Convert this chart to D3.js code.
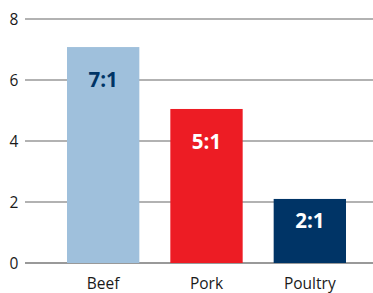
<!DOCTYPE html>
<html><head><meta charset="utf-8">
<script src="https://cdn.jsdelivr.net/npm/d3@7"></script>
<style>body{margin:0;background:#fff}svg{display:block}</style>
</head><body><svg id="c" width="373" height="293"></svg>
<script>
const categories = ["Beef", "Pork", "Poultry"];
const values = [7.08, 5.05, 2.1];
const ratioLabels = ["7:1", "5:1", "2:1"];
const yTicks = [0, 2, 4, 6, 8];
const barColors = ["#9fc0dc", "#ed1c24", "#003466"];
const labelColors = ["#003466", "#ffffff", "#ffffff"];

const svg = d3.select("#c");
const font = "'Open Sans', 'Noto Sans', sans-serif";
const y = d3.scaleLinear().domain([0, 8]).range([263, 19]);
const x = d3.scaleBand().domain(categories).range([36, 377]).paddingInner(0.3).paddingOuter(0.3);

svg.append("g").selectAll("line").data(yTicks).join("line")
  .attr("x1", 25).attr("x2", 373)
  .attr("y1", d => y(d)).attr("y2", d => y(d))
  .attr("stroke", "#999").attr("stroke-width", d => d === 0 ? 2 : 1.5);

svg.append("g").selectAll("text").data(yTicks).join("text")
  .attr("x", 14).attr("y", d => y(d)).attr("dy", "0.36em")
  .attr("text-anchor", "middle").attr("font-family", font).attr("font-size", 15.5)
  .attr("fill", "#1a1a1a").text(d => d);

svg.append("g").selectAll("rect").data(categories).join("rect")
  .attr("x", d => x(d)).attr("width", x.bandwidth())
  .attr("y", (d, i) => y(values[i])).attr("height", (d, i) => y(0) - y(values[i]))
  .attr("fill", (d, i) => barColors[i]);

svg.append("g").selectAll("text").data(categories).join("text")
  .attr("x", d => x(d) + x.bandwidth() / 2)
  .attr("y", (d, i) => Math.min(y(values[i]) + 33, (y(values[i]) + y(0)) / 2 - 10))
  .attr("dy", "0.36em").attr("text-anchor", "middle")
  .attr("font-family", font).attr("font-weight", "bold").attr("font-size", 20.5)
  .attr("fill", (d, i) => labelColors[i]).text((d, i) => ratioLabels[i]);

svg.append("g").selectAll("text").data(categories).join("text")
  .attr("x", d => x(d) + x.bandwidth() / 2).attr("y", 283).attr("dy", "0.36em")
  .attr("text-anchor", "middle").attr("font-family", font).attr("font-size", 15.5)
  .attr("fill", "#1a1a1a").text(d => d);
</script></body></html>
